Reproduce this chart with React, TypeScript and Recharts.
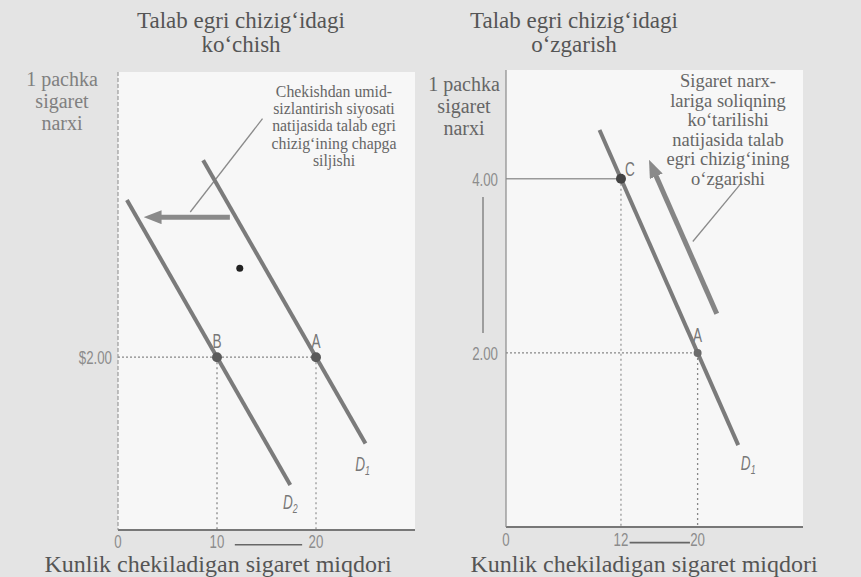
import React from "react";
import {
  LineChart,
  Line,
  XAxis,
  YAxis,
  CartesianGrid,
  ReferenceLine,
  ReferenceDot,
} from "recharts";

// ----- left panel: demand curve shifts left -----
const leftD1 = [
  { q: 8.6, p: 4.28 },
  { q: 25, p: 1.0 },
];
const leftD2 = [
  { q: 0.9, p: 3.82 },
  { q: 17.4, p: 0.52 },
];
const leftShiftArrow = [
  { q: 11.3, p: 3.62 },
  { q: 4.2, p: 3.62 },
];
const leftPointer = [
  { q: 14.6, p: 4.76 },
  { q: 7.3, p: 3.68 },
];
const leftPoints = [
  { name: "B", q: 10, p: 2 },
  { name: "A", q: 20, p: 2 },
];
const leftXTicks = [0, 10, 20];
const leftYTicks = [2];

// ----- right panel: movement along the curve -----
const rightD1 = [
  { q: 9.76, p: 4.56 },
  { q: 24.24, p: 0.94 },
];
const rightMoveArrow = [
  { q: 22.0, p: 2.45 },
  { q: 15.6, p: 4.05 },
];
const rightPointer = [
  { q: 24.4, p: 3.93 },
  { q: 19.5, p: 3.28 },
];
const rightXTicks = [0, 12, 20];
const rightYTicks = [2, 4];

const SERIF = "'Liberation Serif', 'DejaVu Serif', serif";
const SANS = "'Liberation Sans', Arial, sans-serif";
const CURVE = "#7b7b7b";

// condensed tick text (squeezed horizontally like the printed digits)
const narrowTick =
  (axis: "x" | "y", fmt: (v: number) => string) => (props: any) => {
    const { x, y, payload } = props;
    return (
      <text
        transform={`translate(${x},${y}) scale(0.7,1)`}
        textAnchor={axis === "x" ? "middle" : "end"}
        dy={axis === "x" ? "0.8em" : "0.36em"}
        fontFamily={SANS}
        fontSize={19}
        fill="#8c8c8c"
      >
        {fmt(payload.value)}
      </text>
    );
  };

// letter next to a point, drawn relative to the dot position
const letter =
  (text: string, dx: number, dy: number, sub?: string) =>
  (props: any) =>
    (
      <text
        transform={`translate(${props.cx + dx},${props.cy + dy}) scale(0.68,1)`}
        textAnchor="middle"
        fontFamily={SANS}
        fontStyle={sub ? "italic" : "normal"}
        fontSize={20}
        fill="#777"
      >
        {text}
        {sub && (
          <tspan dy={4} fontSize={13}>
            {sub}
          </tspan>
        )}
      </text>
    );

const arrowDefs = (
  <defs>
    <marker
      id="head"
      viewBox="0 0 18 14"
      refX={2}
      refY={7}
      markerWidth={18}
      markerHeight={14}
      markerUnits="userSpaceOnUse"
      orient="auto"
    >
      <path d="M0,0 L18,7 L0,14 z" fill="#8a8a8a" />
    </marker>
  </defs>
);

function LeftPanel() {
  return (
    <LineChart
      width={430}
      height={577}
      margin={{ top: 72, right: 15, bottom: 17, left: 58 }}
    >
      {arrowDefs}
      <CartesianGrid fill="#f7f7f7" horizontal={false} vertical={false} />
      <XAxis
        type="number"
        dataKey="q"
        domain={[0, 30]}
        ticks={leftXTicks}
        allowDataOverflow
        height={30}
        tickLine={false}
        tickSize={0}
        tickMargin={3}
        axisLine={{ stroke: "#777", strokeWidth: 2 }}
        tick={narrowTick("x", (v) => String(v))}
      />
      <YAxis
        type="number"
        domain={[0, 5.3]}
        ticks={leftYTicks}
        allowDataOverflow
        width={60}
        tickLine={false}
        tickSize={0}
        tickMargin={6}
        axisLine={{ stroke: "#8a8a8a", strokeDasharray: "4 2" }}
        tick={narrowTick("y", (v) => `$${v.toFixed(2)}`)}
      />

      {/* guide lines to B and A */}
      <ReferenceLine
        segment={[{ x: 0, y: 2 }, { x: 20, y: 2 }]}
        stroke="#888"
        strokeWidth={1.3}
        strokeDasharray="2 2"
      />
      <ReferenceLine
        segment={[{ x: 10, y: 2 }, { x: 10, y: 0 }]}
        stroke="#888"
        strokeWidth={1.3}
        strokeDasharray="2 3"
      />
      <ReferenceLine
        segment={[{ x: 20, y: 2 }, { x: 20, y: 0 }]}
        stroke="#999"
        strokeWidth={1.3}
        strokeDasharray="2 3"
      />
      {/* small arrow under the quantity axis */}
      <ReferenceLine
        segment={[{ x: 11.8, y: -0.17 }, { x: 18.6, y: -0.17 }]}
        stroke="#666"
        strokeWidth={1.6}
        ifOverflow="visible"
      />

      <Line
        data={leftPointer}
        dataKey="p"
        stroke="#8a8a8a"
        strokeWidth={1.3}
        dot={false}
        activeDot={false}
        isAnimationActive={false}
      />
      <Line
        data={leftD1}
        dataKey="p"
        stroke={CURVE}
        strokeWidth={4}
        dot={false}
        activeDot={false}
        isAnimationActive={false}
      />
      <Line
        data={leftD2}
        dataKey="p"
        stroke={CURVE}
        strokeWidth={4}
        dot={false}
        activeDot={false}
        isAnimationActive={false}
      />
      <Line
        data={leftShiftArrow}
        dataKey="p"
        stroke="#8a8a8a"
        strokeWidth={5}
        markerEnd="url(#head)"
        dot={false}
        activeDot={false}
        isAnimationActive={false}
      />

      {leftPoints.map((d) => (
        <ReferenceDot
          key={d.name}
          x={d.q}
          y={d.p}
          r={5}
          fill="#5a5a5a"
          stroke="none"
        />
      ))}
      {leftPoints.map((d) => (
        <ReferenceDot
          key={"l" + d.name}
          x={d.q}
          y={d.p}
          r={0}
          shape={letter(d.name, 0, -9)}
        />
      ))}
      <ReferenceDot x={25} y={1} r={0} shape={letter("D", -3, 27, "1")} />
      <ReferenceDot x={17.4} y={0.52} r={0} shape={letter("D", 0, 24, "2")} />
      <ReferenceDot x={12.3} y={3.03} r={3.5} fill="#222" stroke="none" />
    </LineChart>
  );
}

function RightPanel() {
  return (
    <LineChart
      width={431}
      height={577}
      margin={{ top: 70, right: 58, bottom: 20, left: 16 }}
    >
      {arrowDefs}
      <CartesianGrid fill="#f7f7f7" horizontal={false} vertical={false} />
      <XAxis
        type="number"
        dataKey="q"
        domain={[0, 31]}
        ticks={rightXTicks}
        allowDataOverflow
        height={30}
        tickLine={false}
        tickSize={0}
        tickMargin={4}
        axisLine={{ stroke: "#777", strokeWidth: 2 }}
        tick={narrowTick("x", (v) => String(v))}
      />
      <YAxis
        type="number"
        domain={[0, 5.25]}
        ticks={rightYTicks}
        allowDataOverflow
        width={60}
        tickLine={false}
        tickSize={0}
        tickMargin={8}
        axisLine={{ stroke: "#8a8a8a", strokeWidth: 1.2 }}
        tick={narrowTick("y", (v) => v.toFixed(2))}
      />

      <ReferenceLine
        segment={[{ x: 0, y: 4 }, { x: 12, y: 4 }]}
        stroke="#999"
        strokeWidth={1.6}
      />
      <ReferenceLine
        segment={[{ x: 12, y: 4 }, { x: 12, y: 0 }]}
        stroke="#999"
        strokeWidth={1.3}
        strokeDasharray="2 3"
      />
      <ReferenceLine
        segment={[{ x: 0, y: 2 }, { x: 20, y: 2 }]}
        stroke="#888"
        strokeWidth={1.3}
        strokeDasharray="2 2"
      />
      <ReferenceLine
        segment={[{ x: 20, y: 2 }, { x: 20, y: 0 }]}
        stroke="#888"
        strokeWidth={1.3}
        strokeDasharray="2 3"
      />
      {/* price rise marker left of the axis and quantity arrow below it */}
      <ReferenceLine
        segment={[{ x: -2.4, y: 2.23 }, { x: -2.4, y: 3.79 }]}
        stroke="#777"
        strokeWidth={1.3}
        ifOverflow="visible"
      />
      <ReferenceLine
        segment={[{ x: 12.9, y: -0.18 }, { x: 19.2, y: -0.18 }]}
        stroke="#666"
        strokeWidth={1.6}
        ifOverflow="visible"
      />

      <Line
        data={rightPointer}
        dataKey="p"
        stroke="#8a8a8a"
        strokeWidth={1.3}
        dot={false}
        activeDot={false}
        isAnimationActive={false}
      />
      <Line
        data={rightD1}
        dataKey="p"
        stroke={CURVE}
        strokeWidth={4}
        dot={false}
        activeDot={false}
        isAnimationActive={false}
      />
      <Line
        data={rightMoveArrow}
        dataKey="p"
        stroke="#858585"
        strokeWidth={5}
        markerEnd="url(#head)"
        dot={false}
        activeDot={false}
        isAnimationActive={false}
      />

      <ReferenceDot x={12} y={4} r={5} fill="#444" stroke="none" />
      <ReferenceDot x={20} y={2} r={4} fill="#6a6a6a" stroke="none" />
      <ReferenceDot x={12} y={4} r={0} shape={letter("C", 9, -3)} />
      <ReferenceDot x={20} y={2} r={0} shape={letter("A", 0, -11)} />
      <ReferenceDot
        x={24.24}
        y={0.94}
        r={0}
        shape={letter("D", 10, 25, "1")}
      />
    </LineChart>
  );
}

const textBlock = (
  lines: string[],
  cx: number,
  top: number,
  size: number,
  lineHeight: number,
  color: string
) => (
  <div
    style={{
      position: "absolute",
      left: cx - 200,
      top,
      width: 400,
      textAlign: "center",
      fontFamily: SERIF,
      fontSize: size,
      lineHeight: `${lineHeight}px`,
      color,
      whiteSpace: "nowrap",
    }}
  >
    {lines.map((l) => (
      <div key={l}>{l}</div>
    ))}
  </div>
);

export default function App() {
  return (
    <div
      style={{
        position: "absolute",
        left: 0,
        top: 0,
        width: 861,
        height: 577,
        background: "#e4e4e4",
        overflow: "hidden",
      }}
    >
      <div style={{ position: "absolute", left: 0, top: 0 }}>
        <LeftPanel />
      </div>
      <div style={{ position: "absolute", left: 430, top: 0 }}>
        <RightPanel />
      </div>

      {textBlock(["Talab egri chizig‘idagi", "ko‘chish"], 241, 9, 23, 24, "#555")}
      {textBlock(["Talab egri chizig‘idagi", "o‘zgarish"], 574, 9, 23, 24, "#555")}

      {textBlock(["1 pachka", "sigaret", "narxi"], 62, 68, 20, 22, "#808080")}
      {textBlock(["1 pachka", "sigaret", "narxi"], 464, 73, 20, 22, "#666")}

      {textBlock(
        [
          "Chekishdan umid-",
          "sizlantirish siyosati",
          "natijasida talab egri",
          "chizig‘ining chapga",
          "siljishi",
        ],
        334,
        83,
        15.8,
        17.2,
        "#666"
      )}
      {textBlock(
        [
          "Sigaret narx-",
          "lariga soliqning",
          "ko‘tarilishi",
          "natijasida talab",
          "egri chizig‘ining",
          "o‘zgarishi",
        ],
        728,
        72,
        18.5,
        19.5,
        "#666"
      )}

      {textBlock(["Kunlik chekiladigan sigaret miqdori"], 218, 552, 24, 24, "#555")}
      {textBlock(["Kunlik chekiladigan sigaret miqdori"], 644, 552, 24, 24, "#555")}
    </div>
  );
}
